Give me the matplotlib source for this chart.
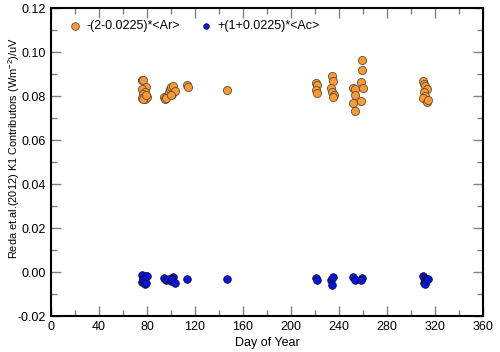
import matplotlib
matplotlib.use("Agg")
import matplotlib.pyplot as plt
from matplotlib.ticker import MultipleLocator

plt.rcParams['font.family'] = ['Liberation Sans', 'DejaVu Sans']
plt.rcParams['mathtext.fontset'] = 'custom'
plt.rcParams['mathtext.rm'] = 'Liberation Sans'
plt.rcParams['mathtext.it'] = 'Liberation Sans'

# Orange series: -(2-0.0225)*<Ar>
ar_days = [76, 77, 79, 76, 78, 77, 79, 76, 78, 80, 77, 79,
           94, 95, 97, 98, 99, 100, 102, 101, 96, 103, 100,
           113, 114, 147,
           221, 222, 221, 222,
           234, 235, 233, 234, 236, 235,
           252, 253, 253, 252, 253,
           259, 259, 258, 260, 258,
           310, 311, 312, 313, 311, 312, 310, 313, 314]
ar_vals = [0.0873, 0.0873, 0.0840, 0.0830, 0.0820, 0.0810, 0.0800, 0.0790, 0.0788, 0.0795, 0.0785, 0.0805,
           0.0795, 0.0785, 0.0800, 0.0820, 0.0830, 0.0840, 0.0848, 0.0810, 0.0790, 0.0825, 0.0805,
           0.0850, 0.0840, 0.0827,
           0.0861, 0.0850, 0.0827, 0.0812,
           0.0891, 0.0870, 0.0835, 0.0820, 0.0805, 0.0794,
           0.0836, 0.0830, 0.0805, 0.0770, 0.0734,
           0.0964, 0.0918, 0.0864, 0.0836, 0.0777,
           0.0870, 0.0855, 0.0845, 0.0830, 0.0820, 0.0800, 0.0790, 0.0773, 0.0780]

# Blue series: +(1+0.0225)*<Ac>
ac_days = [76, 77, 79, 76, 78, 77, 79, 80,
           94, 96, 98, 100, 102, 101, 103,
           113, 147,
           221, 222,
           233, 235, 234,
           252, 253, 259, 258,
           310, 311, 312, 313, 311, 312, 314]
ac_vals = [-0.0015, -0.0030, -0.0020, -0.0045, -0.0055, -0.0035, -0.0050, -0.0020,
           -0.0028, -0.0035, -0.0030, -0.0040, -0.0022, -0.0032, -0.0050,
           -0.0032, -0.0033,
           -0.0028, -0.0035,
           -0.0035, -0.0022, -0.0058,
           -0.0022, -0.0035, -0.0025, -0.0038,
           -0.0018, -0.0028, -0.0038, -0.0030, -0.0048, -0.0055, -0.0032]

fig = plt.figure(figsize=(5.0, 3.52), dpi=100)
ax = fig.add_axes([0.102, 0.102, 0.864, 0.875])

ax.scatter(ar_days, ar_vals, s=34, c='#FF9A30', edgecolors='#5a4a3a', linewidths=0.6,
           label='-(2-0.0225)*<Ar>', zorder=3)
ax.scatter(ac_days, ac_vals, s=30, c='#0A14E6', edgecolors='#101030', linewidths=0.6,
           label='+(1+0.0225)*<Ac>', zorder=3)

ax.set_xlim(0, 360)
ax.set_ylim(-0.02, 0.12)
ax.xaxis.set_major_locator(MultipleLocator(40))
ax.xaxis.set_minor_locator(MultipleLocator(20))
ax.yaxis.set_major_locator(MultipleLocator(0.02))
ax.yaxis.set_minor_locator(MultipleLocator(0.01))
ax.yaxis.set_major_formatter(plt.FuncFormatter(lambda v, p: f"{v:.2f}"))
ax.tick_params(which='both', direction='in', top=True, right=True, labelsize=9, color='#808080')
ax.tick_params(which='major', length=7, width=1)
ax.tick_params(which='minor', length=4, width=1)
for sp in ax.spines.values():
    sp.set_linewidth(1.5)

ax.set_xlabel('Day of Year', fontsize=9, labelpad=3)
ax.set_ylabel('Reda et.al.(2012) K1 Contributors (Wm$^{-2}$)/uV', fontsize=7.9)
ax.yaxis.set_label_coords(-0.068, 0.545)

leg = ax.legend(loc='upper left', ncol=2, frameon=False, fontsize=9,
                handletextpad=0.4, handlelength=1.0, columnspacing=1.6,
                borderaxespad=0.0, bbox_to_anchor=(0.0295, 0.977))
leg.legend_handles[0].set_sizes([30])
leg.legend_handles[1].set_sizes([16])

fig.savefig('out.png', dpi=100)
